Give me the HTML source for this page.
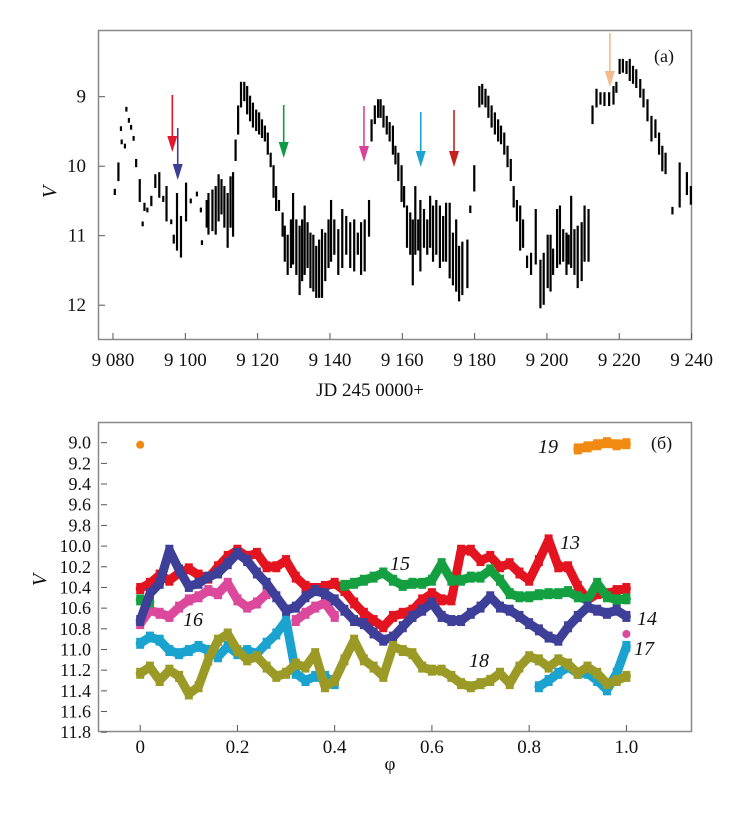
<!DOCTYPE html>
<html><head><meta charset="utf-8">
<style>
body{margin:0;background:#fff;}
svg{display:block;}
text{font-family:"Liberation Serif","DejaVu Serif",serif;}
</style></head>
<body>
<svg id="chart" width="750" height="814" viewBox="0 0 750 814" font-family="Liberation Serif, DejaVu Serif, serif">
<rect x="0" y="0" width="750" height="814" fill="#fff"/>
<g id="topPanel"></g>
<g id="botPanel"></g>
</svg>
<script>
// ---- Panel (a) data: [JD-2450000, V bright, V faint]
const segJD = [9080.5,9081.5,9082.2,9082.4,9083.3,9083.7,9084.4,9085,9085.7,9086.4,9087.4,9088.2,9088.7,9089.5,9090.6,9091.7,9092.8,9093.9,9094.8,9096.1,9096.8,9097.7,9098.8,9100.2,9101.5,9103.2,9104.6,9104.3,9105.9,9106.4,9107.5,9108.4,9109.2,9110,9110.8,9111.7,9112.5,9113.2,9113.9,9114.6,9115.4,9116.3,9117.1,9117.9,9118.7,9119.6,9120.4,9121.2,9122,9122.8,9123.6,9124.4,9125.1,9125.9,9126.9,9127.5,9128.3,9129.2,9129.8,9130.7,9131.6,9132.3,9133,9133.8,9134.6,9135.4,9136.2,9137,9137.8,9138.7,9139.6,9140.3,9141.2,9142.3,9143.4,9144.5,9145.6,9146.7,9147.7,9148.6,9149.6,9150.8,9151.5,9152.4,9153.3,9154,9154.8,9155.7,9156.5,9157.4,9158.1,9158.9,9159.8,9160.5,9161.3,9162.2,9162.9,9163.6,9164.4,9165,9166,9166.9,9167.7,9168.5,9169.4,9170.4,9171.3,9172.1,9173.1,9174,9174.9,9175.7,9176.6,9178,9178.8,9179.9,9181.3,9182.1,9183,9183.8,9184.7,9185.6,9186.5,9187.3,9188.2,9189.1,9190,9190.8,9191.7,9192.6,9193.4,9194.5,9195.6,9196.9,9198.2,9199.1,9200.2,9201,9201.7,9202.8,9203.6,9204.5,9205.4,9206,9206.7,9207.6,9208.5,9209.6,9210.4,9211.5,9212.6,9213.7,9214.8,9215.9,9217.2,9218.4,9219.2,9220.1,9221,9222,9222.9,9223.8,9224.7,9225.8,9226.7,9227.8,9228.9,9230,9231,9231.9,9232.8,9234.7,9236.7,9238.7,9239.8];
const segTop = [10.34,9.96,9.44,9.63,9.69,9.16,9.32,9.42,9.58,9.91,10.2,10.81,10.54,10.61,10.44,10.13,10.1,10.44,10.3,10.78,11.0,10.4,10.73,10.25,10.48,10.38,11.08,10.61,10.5,10.4,10.35,10.3,10.13,10.2,10.3,10.4,10.16,10.1,9.63,9.14,8.8,8.8,8.86,9.0,9.1,9.2,9.24,9.34,9.43,9.53,9.82,10.0,10.3,10.5,10.68,10.87,11.0,10.78,10.4,10.78,10.87,10.78,10.58,10.82,10.97,11.0,11.16,11.07,10.92,10.97,10.78,10.5,10.78,10.92,10.63,10.73,10.82,10.78,10.97,10.82,10.78,10.5,9.34,9.14,9.05,9.05,9.14,9.29,9.38,9.43,9.72,9.82,10.0,10.3,10.58,10.68,10.78,10.3,10.78,10.5,10.63,10.78,10.44,10.58,10.5,10.58,10.73,10.54,10.54,10.97,10.78,11.16,11.1,11.07,10.58,10.0,8.86,8.83,8.9,9.0,9.14,9.24,9.34,9.43,9.53,9.72,9.91,10.3,10.5,10.58,10.78,11.3,11.26,10.63,11.36,11.26,11.0,11.0,11.2,10.63,10.58,10.92,10.97,11.0,10.44,10.92,10.87,10.82,10.58,10.63,9.14,8.9,8.95,8.95,8.95,8.86,8.8,8.47,8.47,8.5,8.47,8.57,8.62,8.76,8.9,9.05,9.29,9.34,9.53,9.72,9.82,10.6,9.96,10.1,10.3];
const segBot = [10.4,10.2,9.48,9.67,9.73,9.2,9.36,9.46,9.62,10.0,10.5,10.85,10.63,10.65,10.56,10.3,10.44,10.5,10.78,10.82,11.1,11.2,11.3,10.78,10.52,10.42,11.12,10.65,10.87,10.97,10.92,10.97,10.78,10.68,10.87,11.16,10.87,11.0,9.91,9.53,9.14,9.05,9.24,9.34,9.43,9.48,9.53,9.58,9.63,9.82,10.0,10.44,10.63,10.63,11.0,11.36,11.55,11.45,11.4,11.55,11.84,11.64,11.55,11.45,11.74,11.79,11.88,11.88,11.88,11.64,11.45,11.36,11.26,11.55,11.45,11.26,11.45,11.5,11.26,11.55,11.5,11.0,9.63,9.38,9.29,9.29,9.43,9.53,9.63,9.82,9.96,10.2,10.5,10.58,11.16,11.26,11.7,11.26,11.2,11.5,11.16,11.26,11.16,11.36,11.26,11.45,11.36,11.36,11.6,11.7,11.79,11.93,11.84,11.74,10.66,10.35,9.14,9.1,9.14,9.29,9.43,9.53,9.63,9.67,9.82,10.0,10.2,10.58,10.78,11.2,11.16,11.45,11.55,11.4,12.03,11.98,11.74,11.79,11.55,11.45,11.4,11.36,11.55,11.4,11.45,11.55,11.74,11.64,11.36,11.36,9.38,9.14,9.1,9.12,9.12,9.1,8.93,8.66,8.64,8.66,8.76,8.8,8.86,9.0,9.14,9.34,9.63,9.58,9.82,10.06,10.1,10.68,10.58,10.4,10.54];
const arrowJD = [9096.4,9097.9,9127.2,9149.4,9165.1,9174.3,9217.4];
const arrowColors = ["#e3192b","#3c3f94","#0f9a47","#d9449b","#1ba2d1","#c4211f","#f6b98c"];
const arrowTopY = [95,128,105,106,112,110,33];
const arrowTipY = [152,180,158,162,167,167,87];
const xTicksA = [9080,9100,9120,9140,9160,9180,9200,9220,9240];
const xTickLabelsA = ["9 080","9 100","9 120","9 140","9 160","9 180","9 200","9 220","9 240"];
const yTicksA = [9,10,11,12];

// ---- Panel (b) data
const phases = [0,0.02,0.04,0.06,0.08,0.10,0.12,0.14,0.16,0.18,0.20,0.22,0.24,0.26,0.28,0.30,0.32,0.34,0.36,0.38,0.40,0.42,0.44,0.46,0.48,0.50,0.52,0.54,0.56,0.58,0.60,0.62,0.64,0.66,0.68,0.70,0.72,0.74,0.76,0.78,0.80,0.82,0.84,0.86,0.88,0.90,0.92,0.94,0.96,0.98,1.00];
const s13 = [10.41,10.36,10.28,10.33,10.26,10.22,10.28,10.31,10.20,10.10,10.04,10.10,10.07,10.20,10.20,10.14,10.30,10.39,10.41,10.39,10.36,10.43,10.55,10.65,10.72,10.78,10.68,10.65,10.62,10.52,10.46,10.52,10.52,10.04,10.04,10.14,10.10,10.20,10.17,10.26,10.33,10.14,9.94,10.20,10.20,10.39,10.52,10.46,10.46,10.43,10.41];
const s14 = [10.72,10.46,10.36,10.04,10.23,10.39,10.36,10.30,10.26,10.17,10.07,10.14,10.26,10.36,10.49,10.62,10.59,10.49,10.43,10.46,10.52,10.62,10.72,10.75,10.84,10.91,10.88,10.78,10.68,10.62,10.55,10.68,10.72,10.72,10.65,10.59,10.49,10.59,10.62,10.68,10.75,10.81,10.88,10.91,10.78,10.68,10.59,10.62,10.65,10.62,10.68];
const s15 = [10.52,10.54,null,null,null,null,null,null,null,null,null,null,null,null,null,null,null,null,null,null,null,10.38,10.36,10.33,10.30,10.26,10.33,10.38,10.36,10.36,10.33,10.17,10.33,10.33,10.30,10.30,10.23,10.33,10.46,10.49,10.49,10.47,10.46,10.46,10.44,10.49,10.52,10.36,10.49,10.52,10.51];
const s16 = [10.75,10.62,10.65,10.68,10.59,10.52,10.49,10.43,10.46,10.36,10.52,10.59,10.55,10.46,null,null,10.72,10.65,10.59,10.55,10.68,null,null,null,null,null,null,null,null,null,null,null,null,null,null,null,null,null,null,null,null,null,null,null,null,null,null,null,null,null,10.85];
const s17 = [10.94,10.88,10.91,11.01,11.04,11.01,10.97,11.01,11.07,10.97,11.04,11.01,11.04,10.94,10.85,10.72,11.23,11.30,11.26,11.26,11.33,null,null,null,null,null,null,null,null,null,null,null,null,null,null,null,null,null,null,null,null,11.36,11.30,11.23,11.17,11.23,11.23,11.30,11.39,11.23,10.97];
const s18 = [11.23,11.17,11.30,11.20,11.26,11.43,11.36,11.10,10.91,10.85,11.01,11.10,11.07,11.17,11.26,11.23,11.14,11.17,11.04,11.36,11.30,11.10,10.91,11.10,11.17,11.26,10.97,11.01,11.04,11.17,11.20,11.20,11.26,11.33,11.36,11.33,11.30,11.23,11.33,11.17,11.07,11.10,11.17,11.10,11.14,11.23,11.17,11.23,11.33,11.30,11.26];
const s19 = [9.02,null,null,null,null,null,null,null,null,null,null,null,null,null,null,null,null,null,null,null,null,null,null,null,null,null,null,null,null,null,null,null,null,null,null,null,null,null,null,null,null,null,null,null,null,9.06,9.04,9.02,9.00,9.02,9.01];
const yTicksB = [9.0,9.2,9.4,9.6,9.8,10.0,10.2,10.4,10.6,10.8,11.0,11.2,11.4,11.6,11.8];
const xTicksB = [0,0.2,0.4,0.6,0.8,1.0];

const NS="http://www.w3.org/2000/svg";
const FONT="Liberation Serif, DejaVu Serif, serif";
function mk(parent,tag,attrs){const e=document.createElementNS(NS,tag);for(const k in attrs)e.setAttribute(k,attrs[k]);if(tag==='text')e.setAttribute('font-family',FONT);parent.appendChild(e);return e;}

// ---------- Panel (a)
const topG=document.getElementById('topPanel');
const ax=jd=>113+(jd-9080)*(578.6/160);
const ay=v=>96.7+(v-9)*69.5;
let fr=mk(topG,'rect',{x:98.5,y:30.5,width:593,height:309,fill:'none',stroke:'#888','stroke-width':1.5});


xTicksA.forEach((t,i)=>{
  let l=mk(topG,'line',{x1:ax(t),x2:ax(t),y1:339,y2:333,stroke:'#555','stroke-width':1});
  
  
  let tx=mk(topG,'text',{x:ax(t),y:366,'text-anchor':'middle','font-size':19,fill:'#111'});
  tx.textContent=xTickLabelsA[i];
  
  
});
yTicksA.forEach(t=>{
  let l=mk(topG,'line',{x1:99,x2:105,y1:ay(t),y2:ay(t),stroke:'#555','stroke-width':1});
  
  
  let tx=mk(topG,'text',{x:86,y:ay(t)+6,'text-anchor':'end','font-size':19,fill:'#111'});
  tx.textContent=String(t);
  
  
});
segJD.forEach((jd,i)=>{
  if(segTop[i]==null||segBot[i]==null)return;
  const y1=ay(segTop[i]),y2=ay(segBot[i]);
  let r=mk(topG,'rect',{x:ax(jd)-1.1,y:y1-1,width:2.2,height:Math.max(2.5,y2-y1+2),fill:'#000'});
  
  
});
arrowJD.forEach((jd,i)=>{
  const x=ax(jd),c=arrowColors[i];
  let g=mk(topG,'g',{});
  
  
  mk(g,'line',{x1:x,x2:x,y1:arrowTopY[i],y2:arrowTipY[i]-10,stroke:c,'stroke-width':1.6});
  mk(g,'polygon',{points:`${x-5},${arrowTipY[i]-16} ${x+5},${arrowTipY[i]-16} ${x},${arrowTipY[i]}`,fill:c});
});
let ta=mk(topG,'text',{x:654,y:62,'font-size':18,fill:'#111'});ta.textContent='(a)';


let yla=mk(topG,'text',{x:56,y:192,'font-size':20,'font-style':'italic',fill:'#111',transform:'rotate(-90 56 192)','text-anchor':'middle'});yla.textContent='V';


let xla=mk(topG,'text',{x:370,y:396,'font-size':19,'text-anchor':'middle',fill:'#111'});xla.textContent='JD 245 0000+';



// ---------- Panel (b)
const botG=document.getElementById('botPanel');
const bx=p=>140.2+p*486.2;
const by=v=>442.7+(v-9)*103.4;
let fb=mk(botG,'rect',{x:98.5,y:422.5,width:593,height:309,fill:'none',stroke:'#888','stroke-width':1.5});


yTicksB.forEach(t=>{
  let l=mk(botG,'line',{x1:101,x2:107,y1:by(t),y2:by(t),stroke:'#555','stroke-width':1});
  
  
  let tx=mk(botG,'text',{x:91,y:by(t)+6,'text-anchor':'end','font-size':18,fill:'#111'});
  tx.textContent=t.toFixed(1);
  
  
});
xTicksB.forEach(t=>{
  let l=mk(botG,'line',{x1:bx(t),x2:bx(t),y1:731,y2:725,stroke:'#555','stroke-width':1});
  
  
  let tx=mk(botG,'text',{x:bx(t),y:753,'text-anchor':'middle','font-size':19,fill:'#111'});
  tx.textContent=t===0?'0':t.toFixed(1);
  
  
});
const series=[[s17,'#1ba3d0','17'],[s16,'#db489c','16'],[s13,'#e3141f','13'],[s15,'#14a040','15'],[s14,'#3d3f98','14'],[s18,'#9c9a26','18'],[s19,'#f08a10','19']];
series.forEach(([arr,c,nm])=>{
  let segs=[],cur=[];
  arr.forEach((v,i)=>{if(v==null){if(cur.length)segs.push(cur);cur=[];}else cur.push([bx(phases[i]),by(v)]);});
  if(cur.length)segs.push(cur);
  segs.forEach(s=>{
    if(s.length===1){
      let d=mk(botG,'circle',{cx:s[0][0],cy:s[0][1],r:4,fill:c});
      
      
      return;}
    let p=mk(botG,'polyline',{points:s.map(q=>q[0].toFixed(1)+','+q[1].toFixed(1)).join(' '),fill:'none',stroke:c,'stroke-width':9,'stroke-linejoin':'round','stroke-linecap':'round'});
    
    
    s.forEach(q=>{
      let m=mk(botG,'rect',{x:q[0]-4,y:q[1]-5.5,width:8,height:11,fill:c});
      
      
    });
  });
});
const labels=[['13',560,549],['14',637,625],['15',390,570],['16',183,626],['17',634,655],['18',469,667],['19',538,453]];
labels.forEach(([t,x,y])=>{
  let tx=mk(botG,'text',{x:x,y:y,'font-size':20,'font-style':'italic',fill:'#111'});tx.textContent=t;
  
  
});
let tb=mk(botG,'text',{x:651,y:449,'font-size':18,fill:'#111'});tb.textContent='(б)';


let ylb=mk(botG,'text',{x:46,y:580,'font-size':20,'font-style':'italic',fill:'#111',transform:'rotate(-90 46 580)','text-anchor':'middle'});ylb.textContent='V';


let xlb=mk(botG,'text',{x:390,y:770,'font-size':19,'text-anchor':'middle',fill:'#111'});xlb.textContent='φ';


</script>
</body></html>
